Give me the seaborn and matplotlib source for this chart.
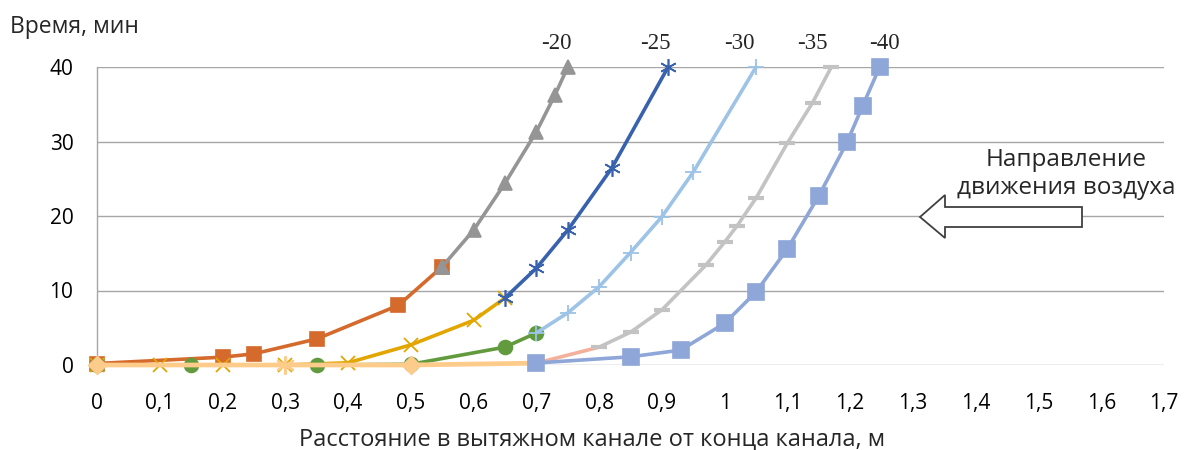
import matplotlib
matplotlib.use("Agg")
import matplotlib.pyplot as plt
from matplotlib.patches import Polygon
import seaborn as sns
import pandas as pd

# --- data: front position (m) vs time (min) for each segment of the curves ---
orange_x = [0.0, 0.2, 0.25, 0.35, 0.48, 0.55]
orange_y = [0.2, 1.05, 1.5, 3.5, 8.0, 13.2]

t20_x = [0.55, 0.60, 0.65, 0.70, 0.73, 0.75]
t20_y = [13.2, 18.1, 24.4, 31.3, 36.3, 40.0]

gold_x = [0.0, 0.1, 0.2, 0.3, 0.4, 0.5, 0.6, 0.65]
gold_y = [0.0, 0.0, 0.0, 0.0, 0.3, 2.7, 6.0, 9.0]

t25_x = [0.65, 0.70, 0.75, 0.82, 0.91]
t25_y = [9.0, 13.0, 18.1, 26.4, 40.0]

green_x = [0.0, 0.15, 0.35, 0.5, 0.65, 0.70]
green_y = [0.0, 0.0, 0.0, 0.1, 2.4, 4.3]

t30_x = [0.70, 0.75, 0.80, 0.85, 0.90, 0.95, 1.05]
t30_y = [4.3, 7.0, 10.5, 15.1, 19.9, 25.9, 40.0]

peach_x = [0.0, 0.3, 0.5, 0.7]
peach_y = [0.0, 0.0, 0.0, 0.25]

salmon_x = [0.7, 0.8]
salmon_y = [0.25, 2.4]

t35_x = [0.80, 0.85, 0.90, 0.97, 1.00, 1.02, 1.05, 1.10, 1.14, 1.17]
t35_y = [2.4, 4.4, 7.4, 13.4, 16.5, 18.7, 22.4, 29.8, 35.2, 40.0]

t40_x = [0.70, 0.85, 0.93, 1.00, 1.05, 1.10, 1.15, 1.195, 1.22, 1.247]
t40_y = [0.27, 1.1, 2.0, 5.6, 9.8, 15.6, 22.7, 29.9, 34.8, 40.0]

temp_labels = ["-20", "-25", "-30", "-35", "-40"]
temp_label_x = [0.732, 0.89, 1.023, 1.14, 1.255]

x_ticks = [round(i * 0.1, 1) for i in range(18)]
x_ticklabels = [("%g" % v).replace(".", ",") for v in x_ticks]
y_ticks = [0, 10, 20, 30, 40]

sns.set_theme(style="white")
plt.rcParams["font.family"] = ["Open Sans", "DejaVu Sans"]

fig = plt.figure(figsize=(11.88, 4.5), dpi=100)
ax = fig.add_axes([97 / 1188, 1 - 365 / 450, (1164 - 97) / 1188, (365 - 67) / 450])

LW = 2.6
AST = (6, 2, 0)  # six-spoke asterisk marker


def draw(xs, ys, color, marker=None, ms=8, mew=1.2, lw=LW, z=3):
    df = pd.DataFrame({"x": xs, "y": ys})
    sns.lineplot(data=df, x="x", y="y", ax=ax, color=color, linewidth=lw,
                 marker=marker, markersize=ms, markeredgecolor=color,
                 markeredgewidth=mew, estimator=None, sort=False,
                 clip_on=False, zorder=z)


draw(orange_x, orange_y, "#D46A2B", marker="s", ms=10)
draw(t20_x, t20_y, "#959595", marker="^", ms=10)
draw(gold_x, gold_y, "#E3A600", marker="x", ms=10, mew=1.3)
draw(t25_x, t25_y, "#3862AE", marker=AST, ms=12, mew=1.2)
draw(green_x, green_y, "#629B3E", marker="o", ms=10)
draw(t30_x, t30_y, "#9DC3E6", marker="+", ms=12, mew=1.3)

# peach segment: diamonds at the ends, asterisk in the middle
df_p = pd.DataFrame({"x": peach_x, "y": peach_y})
sns.lineplot(data=df_p, x="x", y="y", ax=ax, color="#FDCB8A", linewidth=3.4,
             estimator=None, sort=False, clip_on=False, zorder=4)
sns.scatterplot(x=[peach_x[0], peach_x[2]], y=[peach_y[0], peach_y[2]], ax=ax,
                marker="D", s=90, color="#FDCB8A", edgecolor="#FDCB8A",
                clip_on=False, zorder=5)
sns.scatterplot(x=[peach_x[1]], y=[peach_y[1]], ax=ax, marker=AST, s=150,
                color="#FDCB8A", linewidth=1.6, clip_on=False, zorder=5)

draw(salmon_x, salmon_y, "#F4B09A", z=4)
draw(t35_x, t35_y, "#C3C3C3", marker="_", ms=12, mew=3.0, z=5)
draw(t40_x, t40_y, "#8FA6D8", marker="s", ms=11, z=6)

# axes styling
ax.set_xlim(0, 1.7)
ax.set_ylim(0, 40)
ax.set_xticks(x_ticks)
ax.set_xticklabels(x_ticklabels)
ax.set_yticks(y_ticks)
ax.grid(axis="y", color="#A6A6A6", linewidth=1.0, zorder=0)
ax.grid(axis="x", visible=False)
for side in ["top", "right", "bottom"]:
    ax.spines[side].set_visible(False)
ax.spines["left"].set_color("#A6A6A6")
ax.spines["left"].set_linewidth(1.0)
ax.tick_params(axis="both", length=0, labelsize=15, colors="black")
ax.tick_params(axis="x", pad=20)
ax.tick_params(axis="y", pad=17)
ax.set_xlabel("")
ax.set_ylabel("")

fig.text(10 / 1188, 1 - 27 / 450, "Время, мин", fontsize=16.5, ha="left", va="center")
fig.text(592 / 1188, 1 - 440 / 450, "Расстояние в вытяжном канале от конца канала, м",
         fontsize=17, ha="center", va="center")

for lab, lx in zip(temp_labels, temp_label_x):
    ax.text(lx, 43.2, lab, fontsize=16.5, family=["Liberation Serif", "DejaVu Serif"],
            ha="center", va="center", clip_on=False)

fig.text(1066 / 1188, 1 - 174 / 450, "Направление\nдвижения воздуха", fontsize=17.5,
         ha="center", va="center", linespacing=1.2)

# hollow block arrow pointing left (air flow direction)
arrow_px = [(920, 217), (945, 195), (945, 207), (1082, 207), (1082, 227),
            (945, 227), (945, 238)]
arrow_fig = [(px / 1188, 1 - py / 450) for px, py in arrow_px]
fig.patches.append(Polygon(arrow_fig, closed=True, facecolor="white",
                           edgecolor="#404040", linewidth=1.3,
                           transform=fig.transFigure, zorder=10))

fig.savefig("out.png", dpi=100)
